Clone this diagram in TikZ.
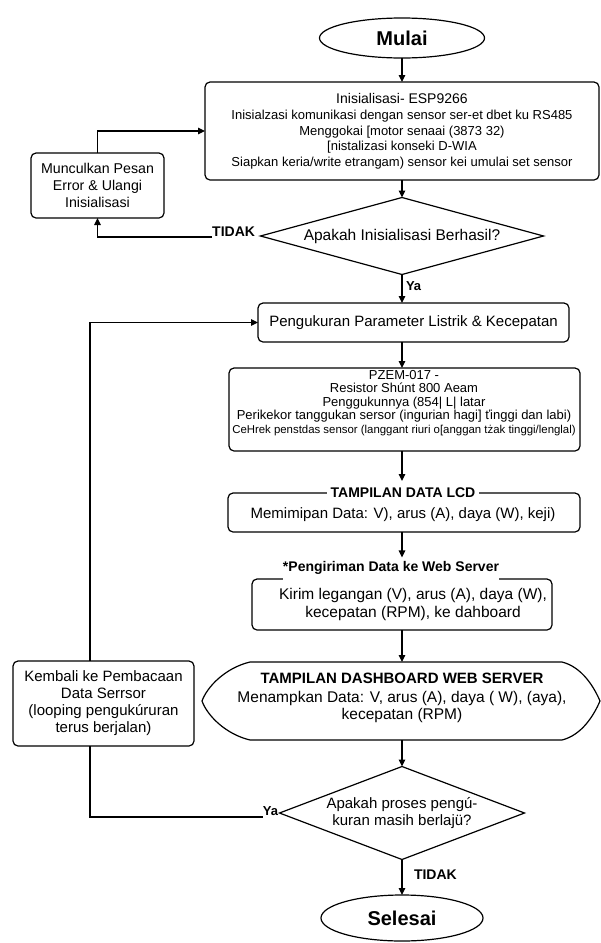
\documentclass[tikz,border=0pt]{standalone}
\usepackage{fontspec}
\setmainfont{Liberation Sans}
\usetikzlibrary{shapes.geometric,arrows.meta,calc}
\begin{document}
\begin{tikzpicture}[x=1pt,y=-1pt,line width=1.2pt,
  every node/.style={inner sep=0pt,outer sep=0pt},
  arr/.style={-{Triangle[length=7pt,width=6.5pt]}},
  box/.style={draw,rounded corners=5pt},
  txt/.style={align=center},
  term/.style={draw,ellipse,font=\fontsize{20}{24}\selectfont\bfseries},
  dec/.style={draw,diamond},
  lbl/.style={font=\fontsize{14}{16}\selectfont\bfseries}]
\fill[white] (0,0) rectangle (601,943);
\useasboundingbox (0,0) rectangle (601,943);

% start
\node[term,minimum width=165,minimum height=40] (start) at (402,38) {Mulai};

% init
\node[box,minimum width=394,minimum height=98] (init) at (402,131) {};
\node[txt,font=\fontsize{13}{15.75}\selectfont] (initt) at (402,131.5)
 {{\fontsize{14}{15.75}\selectfont Inisialisasi- ESP9266}\\
  Inisialzasi komunikasi dengan sensor ser-et dbet ku RS485\\
  Menggokai {[}motor senaai (3873 32)\\
  {[}nistalizasi konseki D-WIA\\
  Siapkan keria/write etrangam) sensor kei umulai set sensor};

% decision 1
\node[dec,aspect=3.67,minimum width=283,minimum height=77,font=\fontsize{15.5}{18}\selectfont] (d1) at (402,236) {Apakah Inisialisasi Berhasil?};
\node[lbl,anchor=east] (no1) at (255,232) {TIDAK};

% error
\node[box,txt,minimum width=133,minimum height=65,font=\fontsize{14.2}{17}\selectfont] (err) at (97.5,185.5)
 {Munculkan Pesan\\Error \& Ulangi\\Inisialisasi};

\draw[arr] ([yshift=-5pt]no1.west) -| (err.south);
\draw[arr] (err.north) |- (init.west);
\draw[arr] (start.south) -- (init.north);
\draw[arr] (init.south) -- (d1.north);

% measurement
\node[lbl,font=\fontsize{13}{15}\selectfont\bfseries,anchor=west] (yes1) at (406,286) {Ya};
\node[box,minimum width=311,minimum height=39,font=\fontsize{15}{18}\selectfont] (meas) at (413.5,322.5) {Pengukuran Parameter Listrik \& Kecepatan};
\draw[arr] (d1.south) -- (d1.south |- meas.north);

% PZEM
\node[box,minimum width=351,minimum height=83] (pzem) at (404.5,409.5) {};
\node[txt,font=\fontsize{13}{13.5}\selectfont] (pzemt) at (404,403)
 {PZEM-017 -\\
  Resistor Shúnt 800 Aeam\\
  Penggukunnya (854| L| latar\\
  Perikekor tanggukan sersor (ingurian hagi] ťinggi dan labi)\\
  {\fontsize{11.4}{13.5}\selectfont CeHrek penstdas sensor (langgant riuri o[anggan tżak tinggi/lenglal)}};
\draw[arr] (meas.south -| d1.south) -- (pzem.north -| d1.south);

% LCD
\node[box,minimum width=352,minimum height=39] (lcd) at (404,512.5) {};
\node[fill=white,inner xsep=4pt,inner ysep=1pt,font=\fontsize{14}{16}\selectfont\bfseries] (lcdt) at (403,493) {TAMPILAN DATA LCD};
\node[font=\fontsize{15}{18}\selectfont] (lcdc) at (403,515) {Memimipan Data: V), arus (A), daya (W), keji)};
\draw[arr,shorten >=6pt] (pzem.south -| d1.south) -- (lcdt.north -| d1.south);

% web
\node[font=\fontsize{14}{16}\selectfont\bfseries] (webt) at (391,568) {*Pengiriman Data ke Web Server};
\node[minimum width=300,minimum height=51] (web) at (402,604.5) {};
\draw[rounded corners=5pt] (webt.west |- web.north) -- (web.north west) -- (web.south west) -- (web.south east) -- (web.north east) -- (webt.east |- web.north);
\node[txt,font=\fontsize{15.5}{18}\selectfont] (webc) at (413,604) {Kirim legangan (V), arus (A), daya (W),\\ kecepatan (RPM), ke dahboard};
\draw[arr,shorten >=4pt] (lcd.south -| d1.south) -- (webt.north -| d1.south);

% dashboard
\node[minimum width=398,minimum height=78] (dash) at (401,701) {};
\draw (250,662) -- (562,662) .. controls +(20,5) and +(-6,-14) .. (600,701)
  .. controls +(-6,14) and +(20,-5) .. (562,740) -- (250,740)
  .. controls +(-25,-6) and +(5,14) .. (202,701)
  .. controls +(5,-14) and +(-25,6) .. (250,662) -- cycle;
\node[font=\fontsize{15}{18}\selectfont\bfseries] (dasht) at (402,678) {TAMPILAN DASHBOARD WEB SERVER};
\node[txt,font=\fontsize{15.5}{17}\selectfont] (dashc) at (402,706.5) {Menampkan Data: V, arus (A), daya ( W), (aya),\\ kecepatan (RPM)};
\draw[arr] (web.south -| d1.south) -- (dash.north -| d1.south);

% loop-back box
\node[box,txt,minimum width=181,minimum height=85,font=\fontsize{15}{17}\selectfont] (kem) at (103.5,703.5)
 {Kembali ke Pembacaan\\ Data Serrsor\\ (looping pengukúruran\\ terus berjalan)};

% decision 2
\node[dec,aspect=2.63,minimum width=245,minimum height=93,txt,font=\fontsize{15}{16.5}\selectfont] (d2) at (402,813)
 {Apakah proses pengú-\\ kuran masih berlajü?};
\draw[arr] (dash.south -| d1.south) -- (d2.north);

\node[lbl,font=\fontsize{13}{15}\selectfont\bfseries,anchor=east] (yes2) at (278,811) {Ya};
\coordinate (lp) at (90,817);
\draw ([yshift=-6pt]yes2.west) -- (lp) -- (lp |- kem.south);
\draw[arr] (lp |- kem.north) |- (meas.west);

% end
\node[lbl,anchor=west] (no2) at (414,875) {TIDAK};
\node[term,minimum width=162,minimum height=46] (end) at (402,918) {Selesai};
\draw[arr] (d2.south) -- (end.north);
\end{tikzpicture}
\end{document}
